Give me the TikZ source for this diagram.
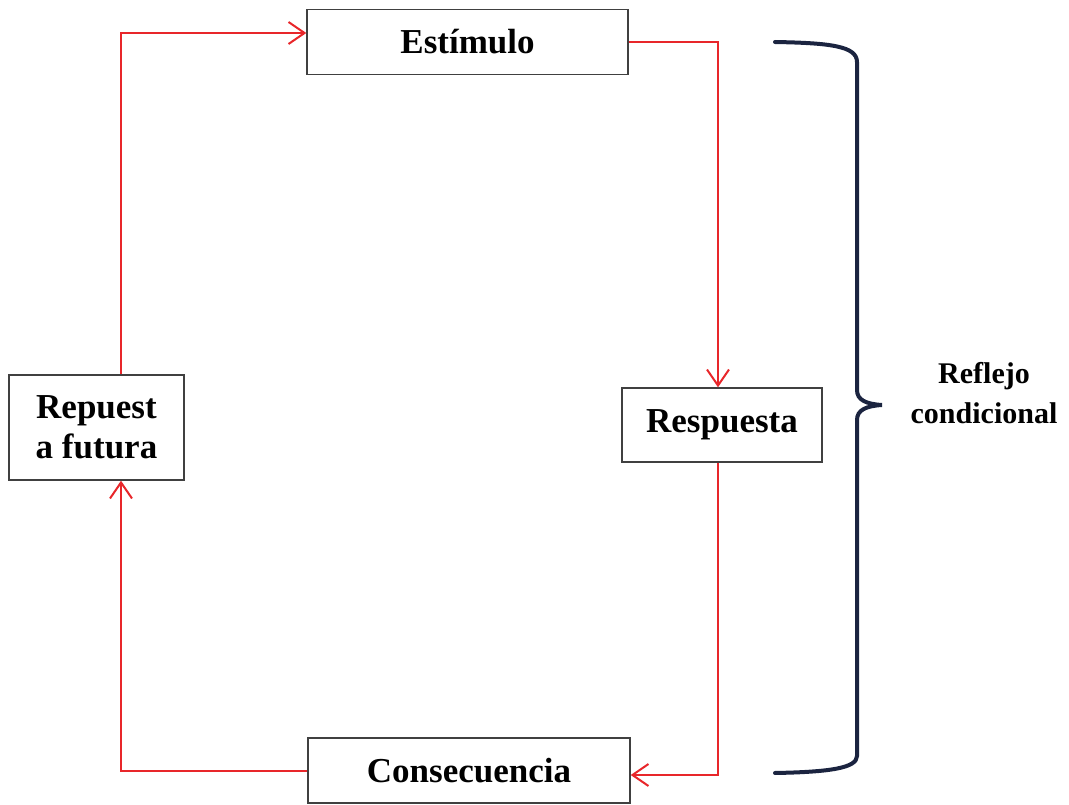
\documentclass[tikz,border=0pt]{standalone}
\usepackage{fontspec}
\setmainfont{Liberation Serif}
\usetikzlibrary{arrows.meta}
\definecolor{arrowred}{HTML}{E8262A}
\definecolor{bracenavy}{HTML}{1B2440}
\definecolor{boxgray}{HTML}{404040}
\tikzset{
  box/.style={draw=boxgray, line width=1.4pt, fill=white, inner sep=0pt, align=center,
    font=\fontsize{35}{40}\selectfont\bfseries},
  flow/.style={draw=arrowred, line width=2pt},
  flowarrow/.style={flow, -{Straight Barb[length=16pt,width=22pt,line width=2pt]}},
  brace/.style={draw=bracenavy, line width=4pt, line cap=round},
  label/.style={align=center, inner sep=0pt, font=\fontsize{30}{40}\selectfont\bfseries}
}
\begin{document}
\begin{tikzpicture}[x=1pt, y=-1pt]
\useasboundingbox (0,0) rectangle (1069,805);

\node[box, minimum width=321pt, minimum height=65pt] (est) at (467.5,42) {Estímulo};
\node[box, minimum width=175pt, minimum height=105pt] (rep) at (96.5,427.5) {Repuest\\a futura};
\node[box, minimum width=200pt, minimum height=74pt] (resp) at (722,425) {Respuesta};
\node[box, minimum width=322pt, minimum height=65pt] (cons) at (469,770.5) {Consecuencia};

\coordinate (c1) at (121,33);
\coordinate (c2) at (718,42);
\coordinate (c3) at (718,775);
\coordinate (c4) at (121,771);

\draw[flowarrow] (c1 |- rep.north) -- (c1) -- (est.west |- c1);
\draw[flowarrow] (est.east) -- (c2) -- (c2 |- resp.north);
\draw[flowarrow] (c3 |- resp.south) -- (c3) -- (cons.east |- c3);
\draw[flowarrow] (cons.west |- c4) -- (c4) -- (c4 |- rep.south);

\draw[brace] (775,42) .. controls (830,43) and (857,46) .. (857,62)
  -- (857,390) .. controls (857,400) and (866,404) .. (882,405)
  .. controls (866,406) and (857,410) .. (857,420)
  -- (857,756) .. controls (857,768) and (830,772) .. (775,773);

\node[label] (refl) at (984,393) {Reflejo\\condicional};
\end{tikzpicture}
\end{document}
